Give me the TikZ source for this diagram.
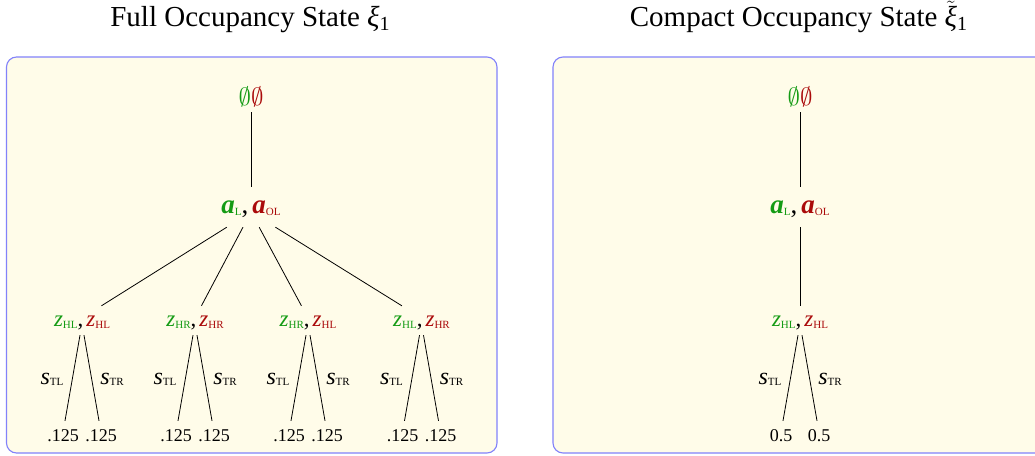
\documentclass[tikz,border=0pt]{standalone}
\usepackage{fontspec}
\setmainfont{Liberation Serif}
\definecolor{grn}{RGB}{20,155,20}
\definecolor{rd}{RGB}{170,10,10}
\definecolor{boxfill}{RGB}{255,252,233}
\definecolor{boxline}{RGB}{130,130,250}
\newcommand\subsz[3]{\raisebox{-#1}{\fontsize{#2}{#2}\selectfont\upshape\mdseries #3}}
\newcommand\zg[1]{\textcolor{grn}{\textit{z}\subsz{2pt}{11}{#1}}}
\newcommand\zr[1]{\textcolor{rd}{\textit{z}\subsz{2pt}{11}{#1}}}
\newcommand\aboth{\textcolor{grn}{\textbf{\textit{a}}\subsz{2.7pt}{11}{L}},\hspace{4pt}\textcolor{rd}{\textbf{\textit{a}}\subsz{2.7pt}{11}{OL}}}
\newcommand\emp{\textcolor{grn}{$\emptyset$}\textcolor{rd}{$\emptyset$}}
\begin{document}
\begin{tikzpicture}[x=1pt,y=-1pt,
  panel/.style={draw=boxline, fill=boxfill, rounded corners=10pt, line width=1.1pt},
  edge/.style={draw=black, line width=0.8pt},
  title/.style={anchor=base, inner sep=0pt, font=\fontsize{29}{29}\selectfont},
  rootn/.style={inner sep=0pt, minimum height=30pt, font=\fontsize{23}{23}\selectfont},
  anode/.style={inner xsep=4pt, inner ysep=0pt, text height=16pt, text depth=14pt, font=\fontsize{27}{27}\selectfont},
  cnode/.style={inner xsep=3pt, inner ysep=0pt, text height=20pt, text depth=4pt, font=\fontsize{23}{23}\selectfont},
  leaf/.style={anchor=base, inner xsep=0pt, inner ysep=7pt, text height=13pt, text depth=0pt, font=\fontsize{18}{18}\selectfont},
  slbl/.style={anchor=base, inner sep=0pt, font=\fontsize{24}{24}\selectfont}]
\clip (0,0) rectangle (1035,455);
\fill[white] (0,0) rectangle (1035,455);
% titles
\node[title] (t1) at (250,27) {Full Occupancy State \textit{ξ}\subsz{3pt}{20}{1}};
\node[title] (t2) at (798.5,27) {Compact Occupancy State $\tilde{\mbox{\textit{ξ}}}$\subsz{3pt}{20}{1}};
% panels
\draw[panel] (6.5,57) rectangle (497,453);
\draw[panel] (553,57) rectangle (1060,453);
% left tree
\node[rootn] (r1) at (251,97) {\emp};
\node[anode] (a1) at (251,212) {\aboth};
\draw[edge] (r1) -- ([yshift=10pt]a1.north);
\foreach \i/\x/\g/\r in {1/82/HL/HL, 2/195/HR/HR, 3/308/HR/HL, 4/421.5/HL/HR} {
  \node[cnode] (c\i) at (\x,318) {\zg{\g},\hspace{3pt}\zr{\r}};
  \draw[edge] (a1) -- (c\i);
  \node[leaf] (l\i a) at (\x-19,441) {.125};
  \node[leaf] (l\i b) at (\x+19,441) {.125};
  \draw[edge] ([xshift=-2pt,yshift=-5pt]c\i.south) -- ([xshift=2pt]l\i a.north);
  \draw[edge] ([xshift=2pt,yshift=-5pt]c\i.south) -- ([xshift=-2pt]l\i b.north);
  \node[slbl] (s\i a) at (\x-30,384) {\textit{s}\subsz{1pt}{11}{TL}};
  \node[slbl] (s\i b) at (\x+30,384) {\textit{s}\subsz{1pt}{11}{TR}};
}
% right tree
\node[rootn] (r2) at (800,97) {\emp};
\node[anode] (a2) at (800,212) {\aboth};
\draw[edge] (r2) -- ([yshift=10pt]a2.north);
\node[cnode] (c5) at (800,318) {\zg{HL},\hspace{3pt}\zr{HL}};
\draw[edge] (a2) -- (c5);
\node[leaf] (l5a) at (781,441) {0.5};
\node[leaf] (l5b) at (819,441) {0.5};
\draw[edge] ([xshift=-2pt,yshift=-5pt]c5.south) -- ([xshift=2pt]l5a.north);
\draw[edge] ([xshift=2pt,yshift=-5pt]c5.south) -- ([xshift=-2pt]l5b.north);
\node[slbl] (s5a) at (770,384) {\textit{s}\subsz{1pt}{11}{TL}};
\node[slbl] (s5b) at (830,384) {\textit{s}\subsz{1pt}{11}{TR}};
\end{tikzpicture}
\end{document}
